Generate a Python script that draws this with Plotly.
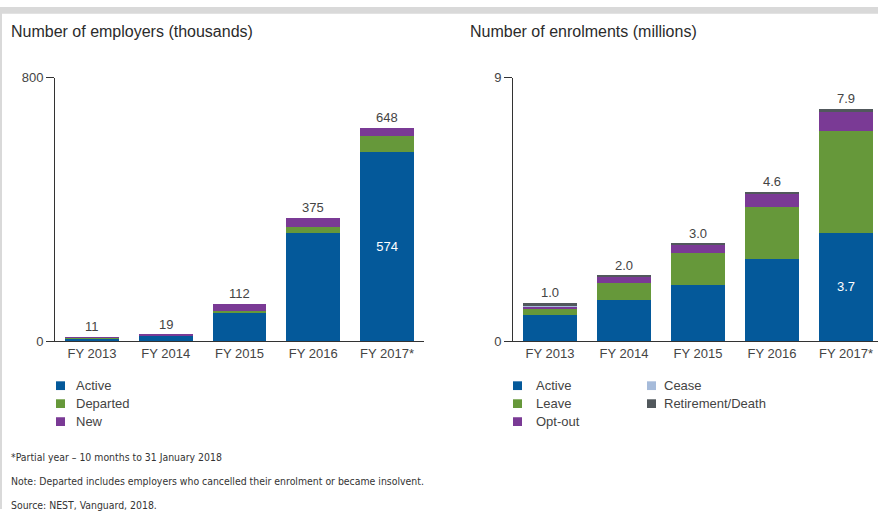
import plotly.graph_objects as go

# ---- data ----
years = ["FY 2013", "FY 2014", "FY 2015", "FY 2016", "FY 2017*"]

# Employers (thousands)
emp_active = [9, 16, 86, 327, 574]
emp_departed = [1, 2, 6, 20, 49]
emp_new = [1, 1, 20, 28, 25]
emp_labels = [11, 19, 112, 375, 648]

# Enrolments (millions)
enr_active = [0.9, 1.4, 1.9, 2.8, 3.7]
enr_leave = [0.2, 0.6, 1.1, 1.8, 3.5]
enr_optout = [0.08, 0.2, 0.3, 0.45, 0.65]
enr_cease = [0.02, 0.01, 0.01, 0.01, 0.01]
enr_retire = [0.1, 0.02, 0.02, 0.04, 0.06]
enr_labels = [1.0, 2.0, 3.0, 4.6, 7.9]

emp_names = ["Active", "Departed", "New"]
enr_names = ["Active", "Leave", "Opt-out", "Cease", "Retirement/Death"]

BLUE = "#04599a"
GREEN = "#66983a"
PURPLE = "#7a3a95"
CEASE = "#a6bbda"
GREY = "#51585c"

emp_colors = [BLUE, GREEN, PURPLE]
enr_colors = [BLUE, GREEN, PURPLE, CEASE, GREY]

W, H = 878, 517
FONT = "Liberation Sans, Arial, sans-serif"
NARROW = "Liberation Sans Narrow, Arial Narrow, DejaVu Sans Condensed, sans-serif"
TXT = "#444444"
AXIS = "#333333"
BAR_W = 0.73


def px(x):
    return x / W


def py(y):
    return 1 - y / H


fig = go.Figure()

# employers stack
emp_series = [emp_active, emp_departed, emp_new]
for i, (name, vals, col) in enumerate(zip(emp_names, emp_series, emp_colors)):
    text = None
    if i == 0:
        text = [""] * (len(vals) - 1) + [f"{vals[-1]}"]
    fig.add_trace(go.Bar(
        x=years, y=vals, name=name, marker=dict(color=col, line=dict(width=0)),
        width=BAR_W, xaxis="x", yaxis="y", showlegend=False,
        text=text, textposition="inside", insidetextanchor="middle",
        textfont=dict(color="white", size=13, family=FONT), textangle=0,
    ))

# enrolments stack
enr_series = [enr_active, enr_leave, enr_optout, enr_cease, enr_retire]
for i, (name, vals, col) in enumerate(zip(enr_names, enr_series, enr_colors)):
    text = None
    if i == 0:
        text = [""] * (len(vals) - 1) + [f"{vals[-1]:.1f}"]
    fig.add_trace(go.Bar(
        x=years, y=vals, name=name, marker=dict(color=col, line=dict(width=0)),
        width=BAR_W, xaxis="x2", yaxis="y2", showlegend=False,
        text=text, textposition="inside", insidetextanchor="middle",
        textfont=dict(color="white", size=13, family=FONT), textangle=0,
    ))

annotations = []

# total labels above each stack
emp_tops = [sum(v) for v in zip(*emp_series)]
enr_tops = [sum(v) for v in zip(*enr_series)]
for yr, top, lab in zip(years, emp_tops, emp_labels):
    annotations.append(dict(x=yr, y=top, xref="x", yref="y", text=f"{lab}",
                            showarrow=False, yanchor="bottom", yshift=1,
                            font=dict(size=13, color=TXT, family=FONT)))
for yr, top, lab in zip(years, enr_tops, enr_labels):
    annotations.append(dict(x=yr, y=top, xref="x2", yref="y2", text=f"{lab:.1f}",
                            showarrow=False, yanchor="bottom", yshift=1,
                            font=dict(size=13, color=TXT, family=FONT)))

# panel titles
annotations.append(dict(x=px(9), y=py(25), xref="paper", yref="paper",
                        text="Number of employers (thousands)", showarrow=False,
                        xanchor="left", yanchor="middle",
                        font=dict(size=16, color="#2b2b2b", family=FONT)))
annotations.append(dict(x=px(468), y=py(25), xref="paper", yref="paper",
                        text="Number of enrolments (millions)", showarrow=False,
                        xanchor="left", yanchor="middle",
                        font=dict(size=16, color="#2b2b2b", family=FONT)))

shapes = [
    # grey frame strips
    dict(type="rect", xref="paper", yref="paper", x0=0, x1=1, y0=py(7), y1=1,
         fillcolor="#d9d9d9", line=dict(width=0), layer="below"),
    dict(type="rect", xref="paper", yref="paper", x0=0, x1=px(2), y0=0, y1=1,
         fillcolor="#d9d9d9", line=dict(width=0), layer="below"),
]

# legend blocks: swatch + label, laid out in columns of three rows
ROW_Y = [390, 408.5, 427]
SW = 9


def legend_block(names, colors, cols):
    for idx, (name, col) in enumerate(zip(names, colors)):
        c = idx // len(ROW_Y)
        r = idx % len(ROW_Y)
        sx, tx = cols[c]
        cy = ROW_Y[r]
        shapes.append(dict(type="rect", xref="paper", yref="paper",
                           x0=px(sx), x1=px(sx + SW), y0=py(cy + SW / 2), y1=py(cy - SW / 2),
                           fillcolor=col, line=dict(width=0)))
        annotations.append(dict(x=px(tx), y=py(cy), xref="paper", yref="paper",
                                text=name, showarrow=False, xanchor="left", yanchor="middle",
                                font=dict(size=13, color=TXT, family=FONT)))


legend_block(emp_names, emp_colors, [(56, 74)])
legend_block(enr_names, enr_colors, [(513, 534), (647, 662)])

# footnotes
notes = [
    "*Partial year \u2013 10 months to 31 January 2018",
    "Note: Departed includes employers who cancelled their enrolment or became insolvent.",
    "Source: NEST, Vanguard, 2018.",
]
for yy, t in zip([463, 488, 513], notes):
    annotations.append(dict(x=px(9), y=py(yy), xref="paper", yref="paper", text=t,
                            showarrow=False, xanchor="left", yanchor="middle",
                            font=dict(size=10.4, color="#333333", family=NARROW)))

y_dom = [py(344), py(73)]
common_x = dict(type="category", showline=True, linecolor=AXIS, linewidth=1,
                ticks="", showgrid=False, zeroline=False,
                tickfont=dict(size=13, color=TXT, family=FONT))
common_y = dict(showline=True, linecolor=AXIS, linewidth=1, ticks="outside",
                ticklen=8, tickcolor=AXIS, tickwidth=1, showgrid=False, zeroline=False,
                tickfont=dict(size=13, color=TXT, family=FONT))

fig.update_layout(
    width=W, height=H,
    margin=dict(l=0, r=0, t=0, b=0),
    paper_bgcolor="white", plot_bgcolor="white",
    barmode="stack", showlegend=False,
    font=dict(family=FONT, color=TXT),
    xaxis=dict(domain=[px(55), px(424)], range=[-0.5, 4.5], anchor="y", **common_x),
    yaxis=dict(domain=y_dom, range=[0, 800], tickvals=[0, 800], anchor="x", **common_y),
    xaxis2=dict(domain=[px(513), 1.0], range=[-0.5, -0.5 + 365 / 74], anchor="y2", **common_x),
    yaxis2=dict(domain=y_dom, range=[0, 9], tickvals=[0, 9], anchor="x2", **common_y),
    annotations=annotations,
    shapes=shapes,
)

fig.write_html("out.html")
